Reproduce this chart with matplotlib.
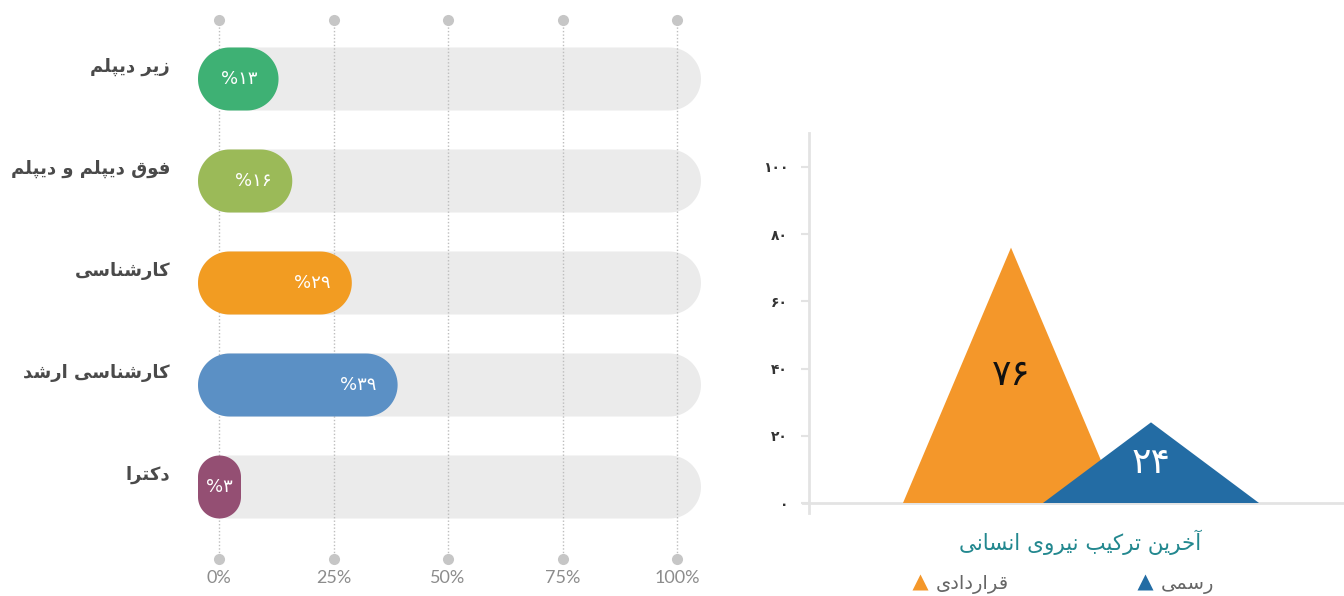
import numpy as np
import matplotlib
matplotlib.use("Agg")
import matplotlib.pyplot as plt
from matplotlib.patches import Polygon
from matplotlib.lines import Line2D

# ---------------- data ----------------
edu_labels = ["زیر دیپلم", "فوق دیپلم و دیپلم", "کارشناسی", "کارشناسی ارشد", "دکترا"]
edu_values = [13, 16, 29, 39, 3]
edu_colors = ["#3EB174", "#9BBA58", "#F29C22", "#5B90C5", "#944F73"]
x_ticks = [0, 25, 50, 75, 100]
x_tick_labels = ["0%", "25%", "50%", "75%", "100%"]

staff_series = ["قراردادی", "رسمی"]
staff_values = [76, 24]
staff_colors = ["#F4972A", "#236CA4"]
staff_label_colors = ["#111111", "#FFFFFF"]
staff_yticks = [0, 20, 40, 60, 80, 100]
staff_title = "آخرین ترکیب نیروی انسانی"

# ---------------- persian shaping helpers ----------------
FORMS = {  # isolated, final, initial, medial
    'ا': ('\uFE8D', '\uFE8E', None, None),
    'آ': ('\uFE81', '\uFE82', None, None),
    'ب': ('\uFE8F', '\uFE90', '\uFE91', '\uFE92'),
    'پ': ('\uFB56', '\uFB57', '\uFB58', '\uFB59'),
    'ت': ('\uFE95', '\uFE96', '\uFE97', '\uFE98'),
    'خ': ('\uFEA5', '\uFEA6', '\uFEA7', '\uFEA8'),
    'د': ('\uFEA9', '\uFEAA', None, None),
    'ر': ('\uFEAD', '\uFEAE', None, None),
    'ز': ('\uFEAF', '\uFEB0', None, None),
    'س': ('\uFEB1', '\uFEB2', '\uFEB3', '\uFEB4'),
    'ش': ('\uFEB5', '\uFEB6', '\uFEB7', '\uFEB8'),
    'ف': ('\uFED1', '\uFED2', '\uFED3', '\uFED4'),
    'ق': ('\uFED5', '\uFED6', '\uFED7', '\uFED8'),
    'ک': ('\uFB8E', '\uFB8F', '\uFB90', '\uFB91'),
    'ل': ('\uFEDD', '\uFEDE', '\uFEDF', '\uFEE0'),
    'م': ('\uFEE1', '\uFEE2', '\uFEE3', '\uFEE4'),
    'ن': ('\uFEE5', '\uFEE6', '\uFEE7', '\uFEE8'),
    'و': ('\uFEED', '\uFEEE', None, None),
    'ی': ('\uFBFC', '\uFBFD', '\uFBFE', '\uFBFF'),
}


def fa(text):
    out = []
    n = len(text)
    for i, ch in enumerate(text):
        if ch not in FORMS:
            out.append(ch)
            continue
        prev = text[i - 1] if i > 0 else None
        nxt = text[i + 1] if i < n - 1 else None
        jp = prev in FORMS and FORMS[prev][2] is not None
        jn = nxt in FORMS and FORMS[ch][2] is not None
        f = FORMS[ch]
        if jp and jn:
            out.append(f[3])
        elif jp:
            out.append(f[1])
        elif jn:
            out.append(f[2])
        else:
            out.append(f[0])
    return "".join(out)[::-1]


FA_DIGITS = str.maketrans("0123456789", "۰۱۲۳۴۵۶۷۸۹")


def fa_num(v):
    return str(v).translate(FA_DIGITS)


AR_FONT = ["DejaVu Sans"]

# ---------------- figure ----------------
W, H = 1344, 596
fig = plt.figure(figsize=(W / 100, H / 100), dpi=100)
fig.patch.set_facecolor("white")

# ---------- left chart ----------
PX_PER_PCT = 4.58
X0_PX = 219
ROW_PX = 102
ROW0_PX = 79
LEFT_W = 720
axL = fig.add_axes([0, 0, LEFT_W / W, 1])
axL.set_xlim(-X0_PX / PX_PER_PCT, (LEFT_W - X0_PX) / PX_PER_PCT)
axL.set_ylim((H - ROW0_PX) / ROW_PX, -ROW0_PX / ROW_PX)
axL.axis("off")

p0 = axL.transData.transform((0, 0))
p1 = axL.transData.transform((1, 1))
SX = abs(p1[0] - p0[0])
SY = abs(p1[1] - p0[1])

BAR_H_PX = 63
BAR_START = -21 / SX
TRACK_END = 100 + 24 / SX
MIN_W_PX = 43


def rounded(ax, x0, x1, yc, h_px, color, z):
    w = (x1 - x0) * SX
    r = min(w, h_px) / 2
    hw = h_px / 2
    xs, ys = [], []
    for cx, cy, a0 in [(w - r, hw - r, 0), (r, hw - r, 90), (r, -hw + r, 180), (w - r, -hw + r, 270)]:
        a = np.radians(a0 + np.linspace(0, 90, 24))
        xs += list(cx + r * np.cos(a))
        ys += list(cy + r * np.sin(a))
    pts = np.column_stack([x0 + np.array(xs) / SX, yc + np.array(ys) / SY])
    ax.add_patch(Polygon(pts, closed=True, facecolor=color, edgecolor="none", zorder=z))


n = len(edu_values)
for i in range(n):
    rounded(axL, BAR_START, TRACK_END, i, BAR_H_PX, "#EBEBEB", 1)

top_y = -59 / ROW_PX
bot_y = (559 - ROW0_PX) / ROW_PX
for xt in x_ticks:
    axL.plot([xt, xt], [top_y, bot_y], ls=(0, (1, 1.5)), lw=1.0, color="#BDBDBD", zorder=2)
    axL.plot([xt, xt], [top_y, bot_y], ls="none", marker="o", ms=8, mfc="#C6C6C6", mec="none", zorder=3, clip_on=False)

for i, (v, c, lab) in enumerate(zip(edu_values, edu_colors, edu_labels)):
    end = max(v, BAR_START + MIN_W_PX / SX)
    rounded(axL, BAR_START, end, i, BAR_H_PX, c, 4)
    wpx = (end - BAR_START) * SX
    txt = "%" + fa_num(v)
    if wpx < 60:
        axL.text((BAR_START + end) / 2, i, txt, ha="center", va="center", color="white",
                 fontsize=13, family=AR_FONT, zorder=5)
    else:
        axL.text(end - 21 / SX, i, txt, ha="right", va="center", color="white",
                 fontsize=13, family=AR_FONT, zorder=5)
    axL.text(-49 / SX, i - 12 / SY, fa(lab), ha="right", va="center", color="#4A4A4A",
             fontsize=13, fontweight="bold", family=AR_FONT)

lab_y = (578 - ROW0_PX) / ROW_PX
for xt, tl in zip(x_ticks, x_tick_labels):
    axL.text(xt, lab_y, tl, ha="center", va="center", color="#8C8C8C", fontsize=13,
             family=["Lato", "DejaVu Sans"], fontweight="normal")

# ---------- right chart ----------
axR = fig.add_axes([809 / W, (H - 513) / H, (W - 809) / W, (513 - 133) / H])
PX_PER_UNIT = 3.36
axR.set_ylim(-10 / PX_PER_UNIT, (503 - 133) / PX_PER_UNIT)
CAT_PX = 140
axR.set_xlim(-(1011 - 809) / CAT_PX, (W - 1011) / CAT_PX)
HALF = 108 / CAT_PX

for sp in ["top", "right", "bottom"]:
    axR.spines[sp].set_visible(False)
axR.spines["left"].set_color("#E3E3E3")
axR.spines["left"].set_linewidth(2)
axR.axhline(0, xmin=-0.012, xmax=1, color="#E3E3E3", lw=2, clip_on=False, zorder=1)

axR.set_yticks(staff_yticks)
axR.set_yticklabels([fa_num(v) for v in staff_yticks], family=AR_FONT, fontsize=10,
                    fontweight="bold", color="#333333")
axR.tick_params(axis="y", length=6, width=1.5, color="#E3E3E3", pad=9)
axR.set_xticks([])

for i, (v, c, lc) in enumerate(zip(staff_values, staff_colors, staff_label_colors)):
    tri = Polygon([[i - HALF, 0], [i, v], [i + HALF, 0]], closed=True, facecolor=c,
                  edgecolor="none", zorder=2 + i)
    axR.add_patch(tri)
    axR.text(i, v / 2, fa_num(v), ha="center", va="center", color=lc, fontsize=26,
             family=AR_FONT, zorder=5)

fig.text(1080 / W, 1 - 542 / H, fa(staff_title), ha="center", va="center",
         color="#23888F", fontsize=15.5, family=AR_FONT)

handles = [Line2D([], [], ls="none", marker="^", ms=12, mfc=c, mec="none") for c in staff_colors]
leg = fig.legend(handles, [fa(s) for s in staff_series], loc="center",
                 bbox_to_anchor=(1062 / W, 1 - 584 / H), ncol=2, frameon=False,
                 prop={"family": AR_FONT, "size": 14}, handletextpad=0.3,
                 columnspacing=6.5, handlelength=1.0)
for t in leg.get_texts():
    t.set_color("#666666")

fig.savefig("out.png", dpi=100, facecolor="white")
